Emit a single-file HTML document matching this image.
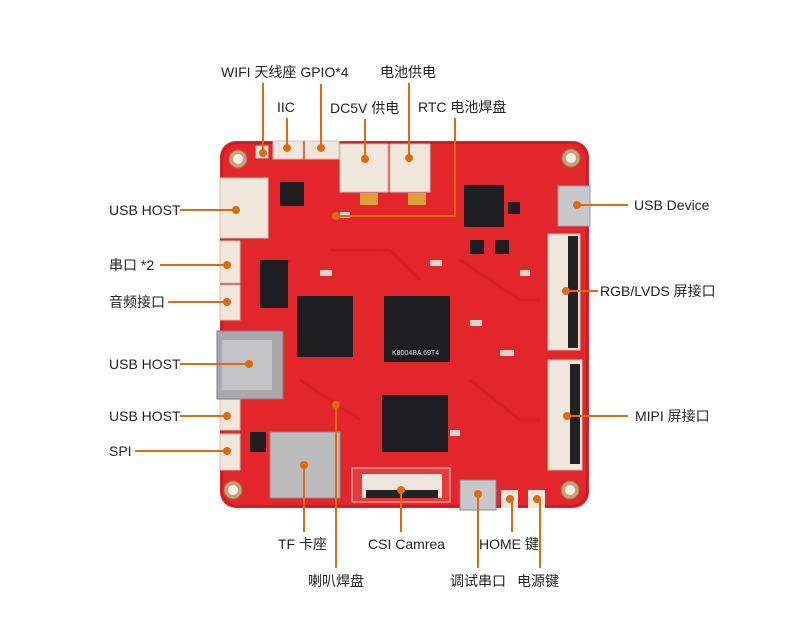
<!DOCTYPE html>
<html><head><meta charset="utf-8"><style>
html,body{margin:0;padding:0;background:#fff;}
svg{display:block}
text{font-family:"Liberation Sans","Noto Sans CJK SC",sans-serif;font-size:14px;fill:#222;}
</style></head><body>
<svg width="800" height="640" viewBox="0 0 800 640" xmlns="http://www.w3.org/2000/svg">
<!-- board -->
<rect x="220" y="141" width="369" height="367" rx="16" fill="#e2262b"/>
<rect x="222" y="143" width="365" height="363" rx="15" fill="none" stroke="#c81c22" stroke-width="2"/>
<!-- faint traces -->
<g stroke="#d11d24" stroke-width="3" fill="none" opacity="0.7">
<path d="M330 250 L390 250 L420 280"/><path d="M460 260 L520 300 L540 300"/><path d="M300 380 L360 420"/><path d="M470 380 L520 420 L540 420"/><path d="M260 300 L290 260"/>
</g>
<!-- holes -->
<g fill="#c9a07a" stroke="#a07050" stroke-width="1">
<circle cx="238" cy="159" r="9"/><circle cx="571" cy="158" r="9"/><circle cx="233" cy="490" r="9"/><circle cx="570" cy="490" r="9"/>
</g>
<g fill="#f4f0ea"><circle cx="238" cy="159" r="5"/><circle cx="571" cy="158" r="5"/><circle cx="233" cy="490" r="5"/><circle cx="570" cy="490" r="5"/></g>
<!-- top connectors -->
<g fill="#efe6dc" stroke="#cfc2b4">
<rect x="256" y="146" width="12" height="12"/>
<rect x="273" y="141" width="30" height="18"/>
<rect x="305" y="141" width="34" height="18"/>
<rect x="340" y="144" width="48" height="48"/>
<rect x="390" y="144" width="40" height="48"/>
<rect x="220" y="178" width="48" height="60"/>
<rect x="220" y="241" width="20" height="42"/>
<rect x="220" y="285" width="20" height="35"/>
<rect x="220" y="398" width="20" height="32"/>
<rect x="220" y="434" width="20" height="36"/>
</g>
<g fill="#e0a13a"><rect x="360" y="193" width="18" height="12"/><rect x="408" y="193" width="18" height="12"/></g>
<!-- black ICs -->
<g fill="#1e1e22">
<rect x="280" y="182" width="24" height="24"/>
<rect x="464" y="185" width="40" height="42"/>
<rect x="260" y="260" width="28" height="48"/>
<rect x="297" y="296" width="56" height="61"/>
<rect x="384" y="296" width="66" height="66"/>
<rect x="382" y="395" width="66" height="57"/>
<rect x="250" y="432" width="16" height="20"/>
<rect x="470" y="240" width="14" height="14"/><rect x="495" y="240" width="14" height="14"/>
<rect x="508" y="202" width="12" height="12"/>
</g>
<text x="392" y="355" style="font-size:7px;fill:#ddd">K8004BA 69T4</text>
<!-- USB big -->
<rect x="217" y="331" width="66" height="68" fill="#a9a9ad" stroke="#7e7e84"/>
<rect x="222" y="340" width="50" height="50" fill="#c3c3c6"/>
<!-- right connectors -->
<g><rect x="548" y="234" width="32" height="116" fill="#efe6dc" stroke="#c9bcae"/><rect x="568" y="236" width="10" height="112" fill="#222"/>
<rect x="548" y="360" width="34" height="110" fill="#efe6dc" stroke="#c9bcae"/><rect x="570" y="364" width="10" height="100" fill="#222"/></g>
<rect x="558" y="186" width="32" height="40" fill="#c8c8cc" stroke="#999"/>
<!-- TF card -->
<rect x="270" y="432" width="70" height="66" fill="#bdbcbc" stroke="#8c8c8c"/>
<!-- camera -->
<rect x="352" y="468" width="98" height="34" fill="#e83a3c" stroke="#f3c9c9"/>
<rect x="362" y="474" width="80" height="24" fill="#eee6dc"/><rect x="366" y="490" width="72" height="8" fill="#222"/>
<!-- uart + buttons -->
<rect x="460" y="480" width="36" height="30" fill="#c8c8cc" stroke="#888"/>
<rect x="501" y="490" width="17" height="18" fill="#efe6dc"/><circle cx="510" cy="499" r="4" fill="#e06a10"/>
<rect x="528" y="490" width="17" height="18" fill="#efe6dc"/><circle cx="537" cy="499" r="4" fill="#e06a10"/>
<!-- small parts -->
<g fill="#ddd6cc"><rect x="340" y="212" width="10" height="6"/><rect x="470" y="320" width="12" height="6"/><rect x="500" y="350" width="14" height="6"/><rect x="320" y="270" width="12" height="6"/><rect x="450" y="430" width="10" height="6"/><rect x="520" y="270" width="10" height="6"/><rect x="430" y="260" width="12" height="6"/></g>
<!-- leader lines -->
<g stroke="#e06a10" stroke-width="2" fill="none">
<line x1="263" y1="83" x2="263" y2="153"/>
<line x1="287" y1="118" x2="287" y2="148"/>
<line x1="321" y1="84" x2="321" y2="148"/>
<line x1="365" y1="119" x2="365" y2="159"/>
<line x1="409" y1="83" x2="409" y2="158"/>
<polyline points="455,118 455,216 336,216"/>
<line x1="180" y1="210" x2="236" y2="210"/>
<line x1="160" y1="265" x2="227" y2="265"/>
<line x1="168" y1="302" x2="227" y2="302"/>
<line x1="180" y1="364" x2="249" y2="364"/>
<line x1="180" y1="416" x2="227" y2="416"/>
<line x1="135" y1="451" x2="227" y2="451"/>
<line x1="577" y1="205" x2="628" y2="205"/>
<line x1="566" y1="291" x2="598" y2="291"/>
<line x1="567" y1="416" x2="628" y2="416"/>
<line x1="304" y1="465" x2="304" y2="532"/>
<line x1="336" y1="405" x2="336" y2="568"/>
<line x1="401" y1="490" x2="401" y2="532"/>
<line x1="478" y1="494" x2="478" y2="568"/>
<line x1="512" y1="500" x2="512" y2="532"/>
<line x1="540" y1="500" x2="540" y2="568"/>
</g>
<g fill="#e06a10">
<circle cx="263" cy="153" r="4"/><circle cx="287" cy="148" r="4"/><circle cx="321" cy="148" r="4"/><circle cx="365" cy="159" r="4"/><circle cx="409" cy="158" r="4"/><circle cx="336" cy="216" r="4"/>
<circle cx="236" cy="210" r="4"/><circle cx="227" cy="265" r="4"/><circle cx="227" cy="302" r="4"/><circle cx="249" cy="364" r="4"/><circle cx="227" cy="416" r="4"/><circle cx="227" cy="451" r="4"/>
<circle cx="577" cy="205" r="4"/><circle cx="566" cy="291" r="4"/><circle cx="567" cy="416" r="4"/>
<circle cx="304" cy="465" r="4"/><circle cx="336" cy="405" r="4"/><circle cx="401" cy="490" r="4"/><circle cx="478" cy="494" r="4"/>
</g>
<!-- labels -->
<text x="221" y="77">WIFI 天线座 GPIO*4</text>
<text x="380" y="77">电池供电</text>
<text x="277" y="112">IIC</text>
<text x="330" y="113">DC5V 供电</text>
<text x="418" y="112">RTC 电池焊盘</text>
<text x="109" y="215">USB HOST</text>
<text x="109" y="270">串口 *2</text>
<text x="109" y="307">音频接口</text>
<text x="109" y="369">USB HOST</text>
<text x="109" y="421">USB HOST</text>
<text x="109" y="456">SPI</text>
<text x="634" y="210">USB Device</text>
<text x="600" y="296">RGB/LVDS 屏接口</text>
<text x="635" y="421">MIPI 屏接口</text>
<text x="278" y="549">TF 卡座</text>
<text x="368" y="549">CSI Camrea</text>
<text x="479" y="549">HOME 键</text>
<text x="308" y="586">喇叭焊盘</text>
<text x="450" y="586">调试串口</text>
<text x="517" y="586">电源键</text>
</svg>
</body></html>
